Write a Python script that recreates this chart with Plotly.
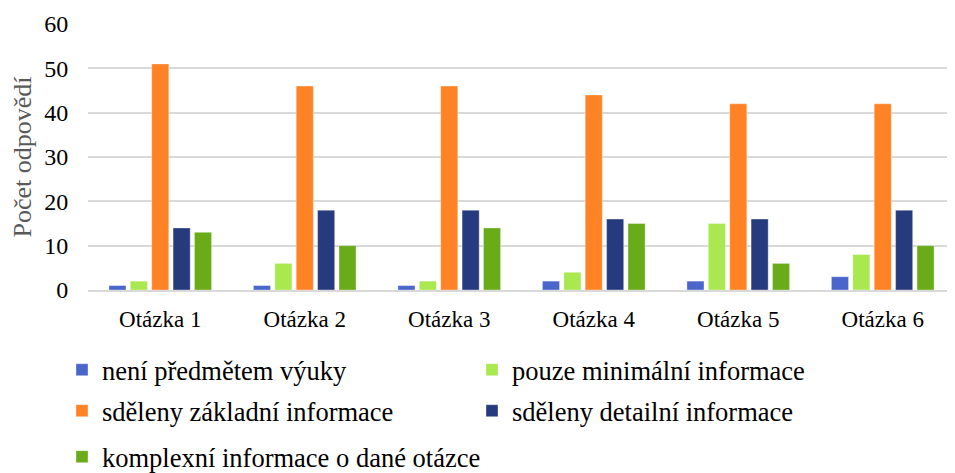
import plotly.graph_objects as go

categories = ["Otázka 1", "Otázka 2", "Otázka 3", "Otázka 4", "Otázka 5", "Otázka 6"]
series_names = [
    "není předmětem výuky",
    "pouze minimální informace",
    "sděleny základní informace",
    "sděleny detailní informace",
    "komplexní informace o dané otázce",
]
neni = [1, 1, 1, 2, 2, 3]
minimalni = [2, 6, 2, 4, 15, 8]
zakladni = [51, 46, 46, 44, 42, 42]
detailni = [14, 18, 18, 16, 16, 18]
komplexni = [13, 10, 14, 15, 6, 10]
y_ticks = [0, 10, 20, 30, 40, 50, 60]

colors = ["#4A66CB", "#A9E84F", "#FF8224", "#263A7E", "#69AB19"]
values = [neni, minimalni, zakladni, detailni, komplexni]
legend_ids = ["legend", "legend", "legend2", "legend2", "legend3"]

font_family = "Liberation Serif"

# page has an 8px body margin; figure is sized to fit the 955x473 window
W, H = 947, 465
L, T, B = 80, 16, 183
plot_w = W - L
plot_h = H - T - B

fig = go.Figure()
for name, vals, col, lg in zip(series_names, values, colors, legend_ids):
    fig.add_trace(go.Bar(
        x=categories, y=vals, name=name,
        marker=dict(color=col, line=dict(color="rgba(255,255,255,0.6)", width=0.6)),
        legend=lg,
    ))

def leg(ypx_page, ew=365):
    yfig = ypx_page - 8
    return dict(
        orientation="h", x=(54 - L) / plot_w, xanchor="left",
        y=(T + plot_h - yfig) / plot_h, yanchor="middle",
        entrywidth=ew, entrywidthmode="pixels",
        font=dict(family=font_family, size=26.5, color="#000000"),
        bgcolor="rgba(0,0,0,0)", traceorder="normal",
    )

fig.update_layout(
    width=W, height=H,
    margin=dict(l=L, r=0, t=T, b=B, autoexpand=False),
    paper_bgcolor="white", plot_bgcolor="white",
    barmode="group", bargap=0.26, bargroupgap=0.2,
    font=dict(family=font_family, size=24, color="#000000"),
    xaxis=dict(
        showgrid=False, showline=True, linecolor="#D9D9D9", linewidth=1.5,
        tickfont=dict(family=font_family, size=23, color="#000000"),
        ticks="outside", ticklen=8, tickcolor="rgba(0,0,0,0)",
    ),
    yaxis=dict(
        range=[0, 60], tickvals=y_ticks, showgrid=True, gridcolor="#D9D9D9", gridwidth=1.5,
        zeroline=False, showline=False,
        ticks="outside", ticklen=14, tickcolor="rgba(0,0,0,0)",
        tickfont=dict(family=font_family, size=24, color="#000000"),
        title=dict(text="Počet odpovědí", font=dict(family=font_family, size=26, color="#595959"), standoff=8),
    ),
    legend=leg(370),
    legend2=leg(411),
    legend3=leg(457, ew=600),
)

fig.write_html("out.html")
